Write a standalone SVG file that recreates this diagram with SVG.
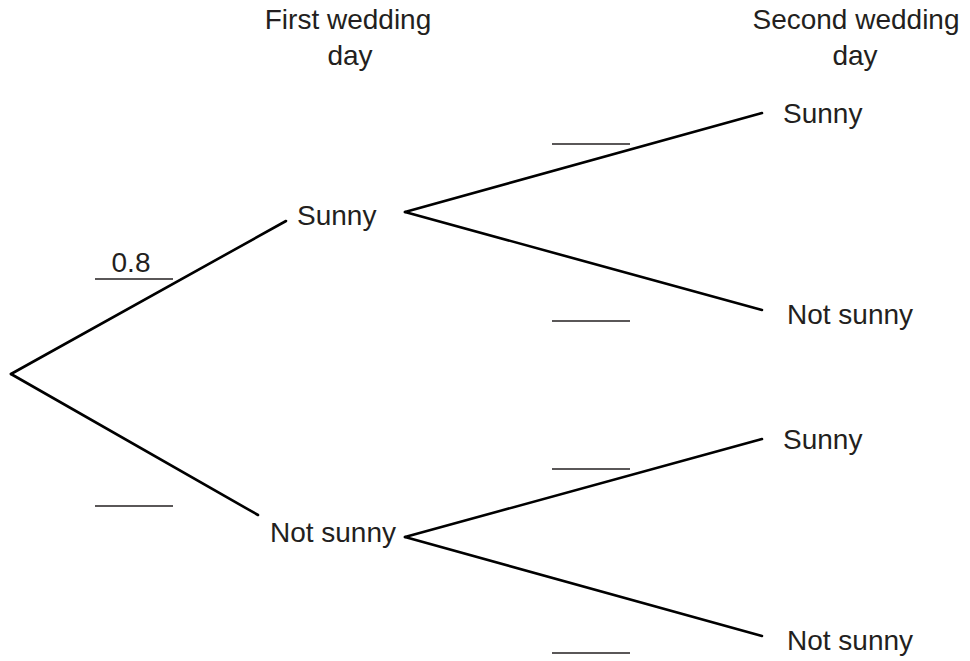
<svg xmlns="http://www.w3.org/2000/svg" width="970" height="661" viewBox="0 0 970 661">
<style>
text{font-family:"Liberation Sans",Arial,sans-serif;font-size:28px;fill:#231f20}
.br{stroke:#000;stroke-width:2.6;fill:none;stroke-linecap:round}
.bl{stroke:#231f20;stroke-width:1.5}
</style>
<rect width="970" height="661" fill="#fff"/>
<g id="headers">
<text x="348" y="29" text-anchor="middle">First wedding</text>
<text x="350" y="65" text-anchor="middle">day</text>
<text x="856" y="29" text-anchor="middle">Second wedding</text>
<text x="855" y="65" text-anchor="middle">day</text>
</g>
<g id="connectors">
<line class="br" x1="11" y1="374" x2="286" y2="221"/>
<line class="br" x1="11" y1="374" x2="258" y2="515"/>
<line class="br" x1="405" y1="212" x2="762" y2="113"/>
<line class="br" x1="405" y1="212" x2="762" y2="310"/>
<line class="br" x1="405" y1="537" x2="762" y2="439"/>
<line class="br" x1="405" y1="537" x2="762" y2="636"/>
</g>
<g id="blanks">
<line class="bl" x1="95" y1="279" x2="173" y2="279"/>
<line class="bl" x1="95" y1="506" x2="173" y2="506"/>
<line class="bl" x1="552" y1="144" x2="630" y2="144"/>
<line class="bl" x1="552" y1="321" x2="630" y2="321"/>
<line class="bl" x1="552" y1="469" x2="630" y2="469"/>
<line class="bl" x1="552" y1="653" x2="630" y2="653"/>
<text x="131" y="272" text-anchor="middle">0.8</text>
</g>
<g id="node-first-sunny"><text x="297" y="225">Sunny</text></g>
<g id="node-first-notsunny"><text x="396" y="542" text-anchor="end">Not sunny</text></g>
<g id="node-ss"><text x="783" y="123">Sunny</text></g>
<g id="node-sn"><text x="787" y="324">Not sunny</text></g>
<g id="node-ns"><text x="783" y="449">Sunny</text></g>
<g id="node-nn"><text x="787" y="650">Not sunny</text></g>
</svg>
